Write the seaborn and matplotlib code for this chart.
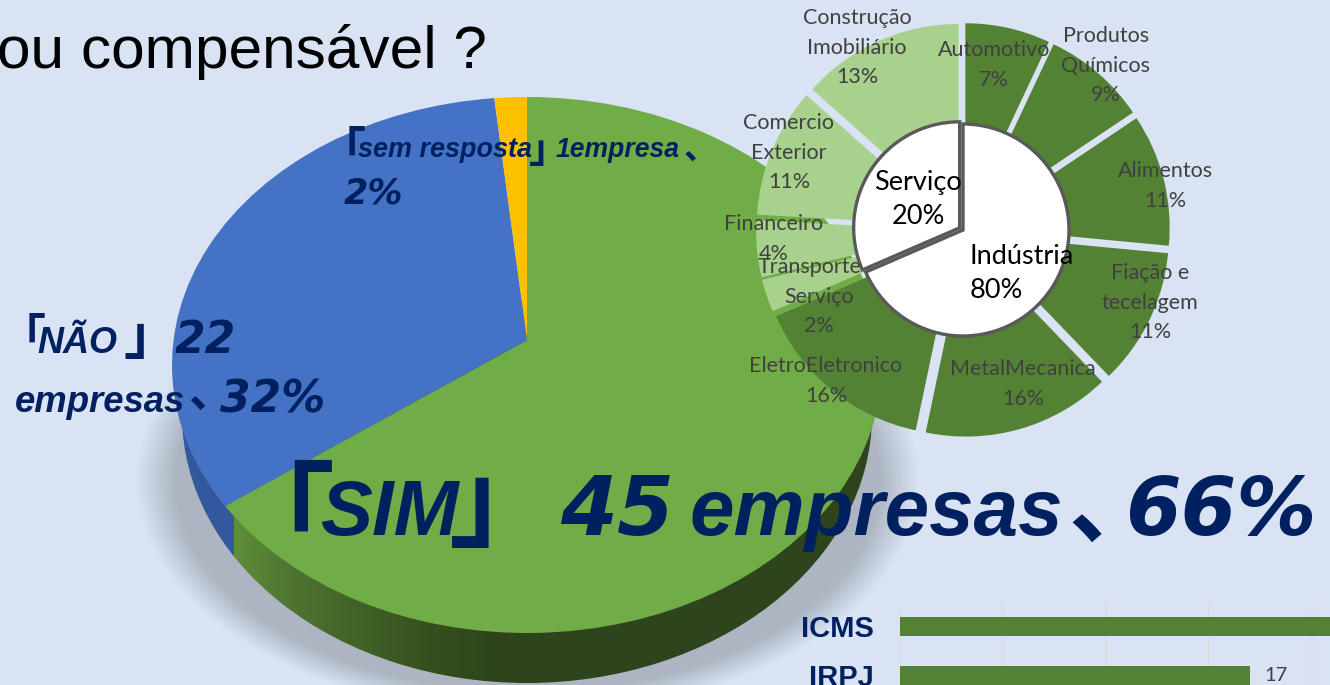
import numpy as np
import matplotlib
matplotlib.use('Agg')
import matplotlib.pyplot as plt
from matplotlib.colors import to_rgb
from matplotlib.patches import Ellipse
import seaborn as sns

W, H = 1330, 685
BG = '#d9e3f3'
NAVY = '#002060'
GREY = '#404040'

# main pie
answers = ['SIM', 'NAO', 'sem resposta']
answer_counts = [45, 22, 1]
answer_colors = ['#70ad47', '#4472c4', '#ffc000']

# doughnut, outer ring
sector_names = ['Automotivo', 'Produtos\nQuímicos', 'Alimentos', 'Fiação e\ntecelagem',
                'MetalMecanica', 'EletroEletronico', 'Transporte\nServiço', 'Financeiro',
                'Comercio\nExterior', 'Construção\nImobiliário']
sector_values = [7.0, 8.6, 10.9, 11.3, 15.5, 15.2, 2.7, 4.7, 10.7, 13.4]
sector_pcts = ['7%', '9%', '11%', '11%', '16%', '16%', '2%', '4%', '11%', '13%']
sector_colors = ['#548235'] * 6 + ['#a9d18e'] * 4
sector_label_xy = [(994, 50), (1106, 36), (1165, 171), (1150, 273), (1023, 369),
                   (826, 366), (819, 267), (774, 224), (789, 123), (857, 18)]

# doughnut, centre
group_names = ['Indústria', 'Serviço']
group_values = [sum(sector_values[:6]), sum(sector_values[6:])]
group_pcts = ['80%', '20%']

# bars
tax_names = ['ICMS', 'IRPJ']
tax_values = [24, 17]


def px_axes(cx, cy, hw, hh, **kw):
    # axes given by its centre and half sizes in pixels of the picture
    return fig.add_axes([(cx - hw) / W, 1 - (cy + hh) / H, 2 * hw / W, 2 * hh / H], **kw)


sns.set_style('white')
fig = plt.figure(figsize=(W / 100, H / 100), dpi=100, facecolor=BG)

# back layer in picture pixels: shadow and side wall of the big pie
back = fig.add_axes([0, 0, 1, 1], zorder=1)
back.axis('off')

xx, yy = np.meshgrid(np.arange(W), np.arange(H))
r = np.sqrt(((xx - 527) / 392) ** 2 + ((yy - 480) / 235) ** 2)
shadow = np.zeros((H, W, 4))
shadow[..., 3] = 0.2 * np.clip((1 - r) / 0.1, 0, 1)
back.imshow(shadow, extent=(0, W, H, 0), aspect='auto', interpolation='bilinear')

# wall colours run left to right, blue up to where the green slice ends
pie_cx, pie_cy, pie_rx, pie_ry = 527, 365, 355, 268
split_x = pie_cx + 345 * np.sin(2 * np.pi * answer_counts[0] / sum(answer_counts))
wall_x = np.arange(150, 900)
wall = np.zeros((1, len(wall_x), 3))
stops_x = [split_x, 297, 430, 500, 900]
stops = np.array([to_rgb(c) for c in ['#5f8e39', '#4d7230', '#35501e', '#2d441c', '#2d441c']])
for k in range(3):
    wall[0, :, k] = np.interp(wall_x, stops_x, stops[:, k])
wall[0, wall_x < split_x] = to_rgb('#33599c')
im = back.imshow(wall, extent=(150, 900, H + 20, 300), aspect='auto', interpolation='nearest')
im.set_clip_path(Ellipse((pie_cx, pie_cy + 50), 690, 2 * pie_ry, transform=back.transData))
back.set_xlim(0, W)
back.set_ylim(H, 0)

# big pie, top surface
ax_pie = px_axes(pie_cx, pie_cy, pie_rx, pie_ry, zorder=2)
slices, _ = ax_pie.pie(answer_counts, colors=answer_colors, startangle=90, counterclock=False,
                       wedgeprops={'linewidth': 0})
ax_pie.set_aspect('auto')
ax_pie.set_xlim(-1, 1)
ax_pie.set_ylim(-1, 1)
# the perspective puts the apex above the middle of the ellipse
for s in slices:
    v = s.get_path().vertices
    v[np.hypot(v[:, 0], v[:, 1]) < 1e-9] = (0, (pie_cy - 340) / pie_ry)

# doughnut, axes in pixels around its centre
ax_ring = px_axes(963, 230, 230, 230, zorder=3)
ax_ring.pie(sector_values, colors=sector_colors, startangle=90, counterclock=False,
            radius=196, explode=[11] * len(sector_values), wedgeprops={'linewidth': 0})
ax_ring.pie(group_values, colors=['white', 'white'], startangle=90, counterclock=False,
            radius=106, explode=[0, 4],
            wedgeprops={'linewidth': 2.4, 'edgecolor': '#595959'})
ax_ring.set_xlim(-230, 230)
ax_ring.set_ylim(-230, 230)

# bars
ax_bar = fig.add_axes([900 / W, 1 - (602 + 97.4) / H, 515 / W, 97.4 / H], zorder=3)
ax_bar.patch.set_alpha(0)
sns.barplot(x=tax_values, y=tax_names, color='#548235', width=0.39, saturation=1,
            linewidth=0, ax=ax_bar)
ax_bar.set_xlim(0, 25)
ax_bar.set_ylim(1.5, -0.5)
ax_bar.set_xticks([0, 5, 10, 15, 20, 25])
ax_bar.tick_params(axis='x', labelbottom=False, length=0)
ax_bar.tick_params(axis='y', length=0, pad=19)
ax_bar.grid(axis='x', color='#dcdcdc', linewidth=1.2)
ax_bar.set_axisbelow(True)
sns.despine(ax=ax_bar, left=True, bottom=True)
for lab in ax_bar.get_yticklabels():
    lab.set(family='Liberation Sans', fontweight='bold', fontsize=21, color=NAVY)
ax_bar.bar_label(ax_bar.containers[0], labels=['', str(tax_values[1])], padding=10, color=GREY,
                 family='Lato', fontsize=14.5)

# top layer with all the loose text, in picture pixels
top = fig.add_axes([0, 0, 1, 1], zorder=5)
top.axis('off')
top.set_xlim(0, W)
top.set_ylim(H, 0)

top.text(-3, 68, 'ou compensável ?', family='Liberation Sans', fontsize=43.5, color='black',
         ha='left', va='baseline')


def navy(x, y, s, em, family='Liberation Sans'):
    top.text(x, y, s, family=family, fontsize=em * 0.72, color=NAVY, fontweight='bold',
             fontstyle='italic', ha='left', va='baseline')


WIDE = 'DejaVu Sans'
CJK = 'Noto Sans CJK JP'

navy(222, 555, '「', 112, CJK)
navy(320, 535, 'SIM', 78)
navy(449, 538, '」', 110, CJK)
navy(560, 535, '45', 82, WIDE)
navy(690, 535, 'empresas', 80)
navy(1068, 536, '、', 90, CJK)
navy(1125, 535, '66%', 80, WIDE)

navy(0, 352, '「', 46, CJK)
navy(37, 353, 'NÃO', 36)
navy(123, 354, '」', 55, CJK)
navy(175, 353, '22', 44, WIDE)
navy(15, 412, 'empresas', 36.5)
navy(188, 408, '、', 45, CJK)
navy(220, 412, '32%', 44, WIDE)

navy(320, 165, '「', 46, CJK)
navy(358, 157, 'sem resposta', 27)
navy(529, 162, '」', 40, CJK)
navy(556, 157, '1empresa', 26.5)
navy(684, 160, '、', 33, CJK)
navy(344, 203, '2%', 35, WIDE)

# ring labels, one text per line with the spacing of the picture
for name, pct, (x, y) in zip(sector_names, sector_pcts, sector_label_xy):
    for i, line in enumerate(name.split('\n') + [pct]):
        lx = x - 9 if line == 'Transporte' else x
        top.text(lx, y + 29.5 * i, line, family='Lato', fontsize=15.5, color=GREY,
                 ha='center', va='center')

top.text(918, 182, group_names[1], family='Lato', fontsize=19.5, color='black', ha='center', va='center')
top.text(918, 216, group_pcts[1], family='Lato', fontsize=19.5, color='black', ha='center', va='center')
top.text(970, 256, group_names[0], family='Lato', fontsize=19.5, color='black', ha='left', va='center')
top.text(970, 290, group_pcts[0], family='Lato', fontsize=19.5, color='black', ha='left', va='center')

fig.savefig('out.png', dpi=100, facecolor=BG)
